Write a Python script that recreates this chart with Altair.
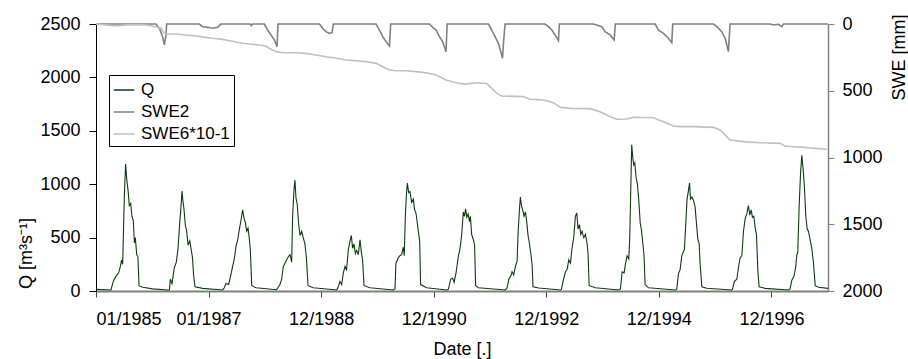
import json
import altair as alt
import pandas as pd

FONT = "Liberation Sans"

# x axis: days since 01/01/1985, ticks every 730 days
X_DOMAIN = [0, 4747]
X_TICK_DAYS = [0, 730, 1460, 2190, 2920, 3650, 4380]
X_TICK_LABELS = ["01/1985", "01/1987", "12/1988", "12/1990", "12/1992", "12/1994", "12/1996"]
Q_TICKS = [0, 500, 1000, 1500, 2000, 2500]
SWE_TICKS = [0, 500, 1000, 1500, 2000]
SERIES_NAMES = ["Q", "SWE2", "SWE6*10-1"]
SERIES_COLORS = ["#0d3d0d", "#808080", "#c0c0c0"]

Q_DAYS = [0, 97, 112, 130, 147, 158, 166, 173, 184, 192, 199, 208, 216, 225, 233, 242, 249, 255, 264, 272, 279, 303, 368, 465,
          476, 482, 493, 508, 521, 532, 543, 551, 558, 564, 571, 579, 588, 597, 608, 616, 625, 633, 642, 692, 822,
          832, 843, 860, 876, 886, 897, 908, 919, 930, 940, 951, 960, 969, 977, 986, 995, 1001, 1010, 1038, 1171,
          1193, 1204, 1215, 1225, 1236, 1247, 1258, 1269, 1275, 1284, 1290, 1297, 1305, 1314, 1323, 1334, 1344, 1355, 1364, 1375, 1409, 1561,
          1571, 1582, 1593, 1604, 1615, 1625, 1636, 1647, 1656, 1664, 1673, 1682, 1690, 1701, 1712, 1721, 1729, 1738, 1777, 1928,
          1939, 1945, 1960, 1971, 1982, 1993, 1999, 2006, 2012, 2019, 2028, 2036, 2047, 2058, 2066, 2075, 2084, 2090, 2099, 2105, 2144, 2274,
          2285, 2300, 2313, 2322, 2335, 2350, 2360, 2371, 2376, 2382, 2390, 2397, 2405, 2413, 2422, 2428, 2436, 2447, 2455, 2462, 2480, 2655,
          2666, 2677, 2690, 2698, 2709, 2720, 2731, 2737, 2746, 2752, 2759, 2767, 2776, 2785, 2793, 2802, 2811, 2819, 2828, 2834, 2871, 3012,
          3018, 3029, 3044, 3055, 3066, 3077, 3087, 3098, 3109, 3118, 3126, 3135, 3144, 3152, 3163, 3174, 3185, 3191, 3198, 3239, 3390,
          3401, 3412, 3425, 3433, 3444, 3455, 3461, 3468, 3474, 3481, 3487, 3494, 3503, 3511, 3520, 3529, 3537, 3546, 3554, 3561, 3583, 3756,
          3766, 3777, 3788, 3799, 3807, 3816, 3825, 3833, 3842, 3849, 3855, 3864, 3874, 3885, 3896, 3903, 3911, 3918, 3929, 3961, 4123,
          4127, 4140, 4156, 4166, 4177, 4188, 4199, 4210, 4220, 4231, 4240, 4249, 4257, 4266, 4274, 4283, 4292, 4300, 4339, 4491,
          4501, 4512, 4527, 4538, 4545, 4551, 4560, 4569, 4577, 4586, 4595, 4603, 4612, 4620, 4631, 4642, 4653, 4664, 4685, 4747]
Q_VALUES = [15, 10, 90, 140, 170, 230, 290, 250, 900, 1190, 1050, 940, 800, 820, 700, 660, 450, 500, 340, 320, 50, 35, 20, 10,
            10, 110, 70, 220, 270, 400, 640, 790, 935, 840, 760, 620, 560, 430, 470, 400, 320, 150, 40, 25, 10,
            30, 70, 60, 160, 230, 300, 420, 480, 580, 660, 760, 680, 640, 560, 590, 480, 380, 50, 30, 12,
            60, 110, 230, 260, 290, 320, 340, 270, 700, 950, 1040, 870, 810, 630, 520, 560, 500, 440, 320, 50, 30, 10,
            40, 90, 60, 170, 230, 200, 380, 470, 520, 400, 440, 350, 380, 340, 480, 360, 290, 50, 30, 10,
            20, 260, 310, 330, 340, 410, 330, 700, 880, 1010, 920, 930, 830, 860, 760, 730, 630, 560, 470, 60, 30, 10,
            15, 110, 120, 80, 170, 330, 390, 520, 620, 740, 700, 770, 690, 720, 650, 700, 530, 480, 430, 50, 30, 10,
            30, 110, 140, 180, 150, 230, 280, 540, 760, 880, 800, 760, 700, 740, 650, 520, 440, 360, 250, 40, 28, 10,
            15, 90, 180, 200, 290, 260, 400, 500, 700, 730, 580, 620, 530, 560, 500, 530, 440, 350, 50, 30, 10,
            20, 180, 170, 250, 330, 300, 480, 950, 1370, 1250, 1180, 1200, 1060, 1000, 850, 640, 570, 450, 330, 60, 30, 10,
            15, 160, 200, 330, 360, 390, 640, 860, 940, 1010, 860, 880, 850, 790, 600, 480, 450, 250, 40, 25, 10,
            15, 90, 110, 220, 310, 330, 560, 680, 720, 800, 710, 760, 690, 700, 600, 530, 200, 40, 25, 10,
            20, 100, 140, 230, 340, 360, 800, 1100, 1270, 1140, 950, 700, 580, 560, 480, 400, 260, 50, 35, 25]

SWE2_DAYS = [0, 389, 411, 432, 443, 454, 458,
             670, 692, 724, 757, 789, 805, 811,
             1000, 1008, 1016,
             1092, 1113, 1135, 1157, 1174, 1180,
             1449, 1470, 1492, 1513, 1531, 1539,
             1816, 1838, 1859, 1881, 1903, 1911,
             2162, 2184, 2205, 2227, 2248, 2270, 2277,
             2545, 2566, 2588, 2610, 2625, 2636, 2644, 2653,
             2912, 2934, 2956, 2977, 2999, 3005,
             3226, 3247, 3280, 3301, 3334, 3360, 3368,
             3626, 3647, 3680, 3712, 3734, 3740,
             4004, 4026, 4058, 4080, 4091, 4101, 4112,
             4372, 4393, 4426, 4447, 4458,
             4747]
SWE2_VALUES = [0, 0, 32, 95, 157, 82, 0,
               0, 20, 25, 32, 25, 7, 0,
               0, 12, 0,
               0, 45, 82, 120, 170, 0,
               0, 32, 57, 70, 65, 0,
               0, 45, 95, 132, 165, 0,
               0, 25, 45, 95, 132, 207, 0,
               0, 45, 95, 145, 207, 257, 120, 0,
               0, 20, 45, 82, 125, 0,
               0, 7, 20, 57, 82, 120, 0,
               0, 45, 70, 107, 140, 0,
               0, 20, 57, 107, 157, 207, 0,
               0, 7, 2, 20, 0,
               0]

SWE6_DAYS = [0, 65, 130, 195, 259, 324, 389, 422, 443, 465, 519, 584, 649, 713, 757, 822, 865, 930, 995, 1059,
             1103, 1124, 1167, 1211, 1297, 1362, 1427, 1492, 1557, 1622, 1686, 1751, 1816, 1859, 1903, 1946,
             2011, 2076, 2140, 2205, 2270, 2313, 2357, 2400, 2469, 2534, 2566, 2599, 2631, 2772, 2815, 2902,
             2966, 3010, 3074, 3204, 3269, 3334, 3377, 3442, 3485, 3615, 3680, 3745, 3788, 3874, 4004, 4047,
             4080, 4112, 4199, 4307, 4437, 4469, 4523, 4588, 4653, 4739]
SWE6_VALUES = [0, 7, 15, 7, 5, 7, 20, 32, 70, 75, 75, 82, 90, 100, 107, 115, 125, 140, 150, 157,
               165, 182, 207, 215, 215, 220, 232, 245, 257, 270, 275, 282, 295, 320, 345, 350,
               350, 357, 365, 382, 420, 432, 445, 450, 440, 445, 482, 520, 539, 544, 564, 569,
               589, 624, 632, 634, 657, 694, 714, 712, 699, 702, 732, 764, 769, 769, 774, 794,
               831, 869, 881, 889, 894, 914, 919, 924, 931, 939]

q_df = pd.DataFrame({"day": Q_DAYS, "value": Q_VALUES, "series": SERIES_NAMES[0]})
swe_df = pd.concat([
    pd.DataFrame({"day": SWE2_DAYS, "value": SWE2_VALUES, "series": SERIES_NAMES[1]}),
    pd.DataFrame({"day": SWE6_DAYS, "value": SWE6_VALUES, "series": SERIES_NAMES[2]}),
], ignore_index=True)

label_expr = json.dumps(X_TICK_LABELS) + "[round(datum.value / 730)]"

x_enc = alt.X(
    "day:Q",
    scale=alt.Scale(domain=X_DOMAIN, nice=False, zero=False),
    axis=alt.Axis(
        values=X_TICK_DAYS, labelExpr=label_expr, grid=False,
        domainColor="#808080", domainWidth=2, tickColor="#404040", tickSize=6,
        labelFontSize=18, labelPadding=13, labelColor="black", labelFont=FONT,
        title="Date [.]", titleFontSize=18, titleFontWeight="normal", titleFont=FONT,
        titleColor="black", titleX=366, titleY=58, titleBaseline="middle", titleAlign="center",
    ),
)

legend = alt.Legend(
    orient="none", legendX=13, legendY=51, title=None,
    strokeColor="black", fillColor="white", padding=4, cornerRadius=0,
    symbolType="stroke", symbolSize=420, symbolStrokeWidth=1.5,
    labelFontSize=17, labelFont=FONT, labelColor="black", labelOffset=6, rowPadding=3,
)
color_enc = alt.Color(
    "series:N",
    scale=alt.Scale(domain=SERIES_NAMES, range=SERIES_COLORS),
    legend=legend,
)

q_layer = alt.Chart(q_df).mark_line(strokeWidth=1.1).encode(
    x=x_enc,
    y=alt.Y(
        "value:Q",
        scale=alt.Scale(domain=[0, 2500], nice=False),
        axis=alt.Axis(
            orient="left", values=Q_TICKS, format="d", grid=False,
            domainColor="black", tickColor="black", tickSize=7,
            labelFontSize=18, labelPadding=9, labelColor="black", labelFont=FONT,
            title="Q [m³s⁻¹]", titleFontSize=18, titleFontWeight="normal", titleFont=FONT,
            titleColor="black", titleAngle=270, titleX=-70, titleY=229,
            titleAlign="center", titleBaseline="middle",
        ),
    ),
    color=color_enc,
)

swe_layer = alt.Chart(swe_df).mark_line(strokeWidth=1.6).encode(
    x=x_enc,
    y=alt.Y(
        "value:Q",
        scale=alt.Scale(domain=[0, 2000], reverse=True, nice=False),
        axis=alt.Axis(
            orient="right", values=SWE_TICKS, format="d", grid=False,
            domainColor="#808080", domainWidth=1.5, tickColor="#808080", tickSize=6,
            labelFontSize=18, labelPadding=8, labelColor="black", labelFont=FONT,
            title="SWE [mm]", titleFontSize=18, titleFontWeight="normal", titleFont=FONT,
            titleColor="black", titleAngle=270, titleX=71, titleY=33,
            titleAlign="center", titleBaseline="middle",
        ),
    ),
    color=color_enc,
)

chart = alt.layer(q_layer, swe_layer).resolve_scale(y="independent").properties(
    width=732, height=267,
    autosize=alt.AutoSizeParams(type="none"),
    padding={"left": 96, "top": 24, "right": 80, "bottom": 68},
    background="white",
).configure_view(stroke=None)

chart.save("out.html", embed_options={"renderer": "svg", "actions": False})
